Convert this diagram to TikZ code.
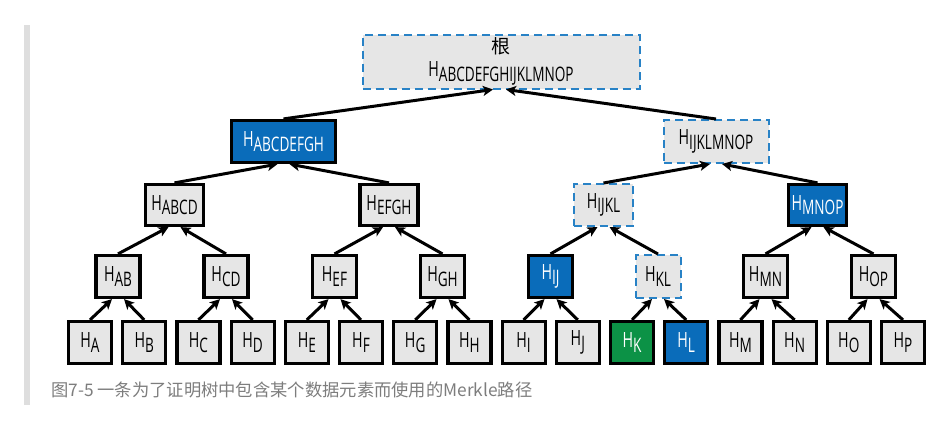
\documentclass[tikz,border=0pt]{standalone}
\usepackage{fontspec}
\usetikzlibrary{arrows.meta}
\newfontfamily\labfont[FakeStretch=0.68]{Open Sans}
\newfontfamily\cjk{Noto Sans CJK SC}
\newcommand\hsub[1]{H\raisebox{-0.22em}{\fontsize{20}{20}\selectfont #1}}
\definecolor{boxgray}{RGB}{230,230,230}
\definecolor{hblue}{RGB}{10,108,186}
\definecolor{dblue}{RGB}{40,130,198}
\definecolor{hgreen}{RGB}{12,146,70}
\definecolor{capgray}{RGB}{125,125,125}
\definecolor{bargray}{RGB}{222,222,222}
\tikzset{
  box/.style={draw=black, line width=3.2pt, fill=boxgray, inner sep=0pt,
    font=\labfont\fontsize{21}{23}\selectfont},
  bluebox/.style={fill=hblue, text=white},
  greenbox/.style={fill=hgreen, text=white},
  dashbox/.style={draw=dblue, line width=2pt, dash pattern=on 8pt off 5pt},
  leaf/.style={box, minimum width=43pt, minimum height=42pt},
  lvtwo/.style={box, minimum width=44pt, minimum height=42pt},
  lvthree/.style={box, minimum width=58pt, minimum height=41pt},
  lvfour/.style={box, minimum width=104pt, minimum height=42pt},
  arr/.style={line width=3pt, -{Stealth[length=10pt,width=10pt,inset=2.5pt]}},
}
\begin{document}
\begin{tikzpicture}[x=1pt,y=-1pt]
\useasboundingbox (0,0) rectangle (947,421);
\fill[bargray] (24,25) rectangle (30,405);
% root
\node[box, dashbox, minimum width=277pt, minimum height=54pt, align=center] (root) at (501,61.5)
  {{\cjk\fontsize{19}{19}\selectfont 根}\\[0pt]\hsub{ABCDEFGHIJKLMNOP}};
% level 4
\node[lvfour, bluebox] (ABCDEFGH) at (283.5,141.5) {\hsub{ABCDEFGH}};
\node[lvfour, dashbox, minimum width=105pt, minimum height=43pt] (IJKLMNOP) at (716,141.5) {\hsub{IJKLMNOP}};
% level 3
\node[lvthree] (ABCD) at (174.5,205) {\hsub{ABCD}};
\node[lvthree] (EFGH) at (389,205) {\hsub{EFGH}};
\node[lvthree, dashbox, minimum width=59pt, minimum height=42pt] (IJKL) at (603.5,205) {\hsub{IJKL}};
\node[lvthree, bluebox] (MNOP) at (817.5,205) {\hsub{MNOP}};
% level 2
\node[lvtwo] (AB) at (118,276.5) {\hsub{AB}};
\node[lvtwo] (CD) at (226,276.5) {\hsub{CD}};
\node[lvtwo] (EF) at (334.5,276.5) {\hsub{EF}};
\node[lvtwo] (GH) at (442.5,276.5) {\hsub{GH}};
\node[lvtwo, bluebox] (IJ) at (550.5,276.5) {\hsub{IJ}};
\node[lvtwo, dashbox, minimum width=45pt, minimum height=43pt] (KL) at (658,276.5) {\hsub{KL}};
\node[lvtwo] (MN) at (765.5,276.5) {\hsub{MN}};
\node[lvtwo] (OP) at (873.5,276.5) {\hsub{OP}};
% leaves
\node[leaf] (A) at (90,342.5) {\hsub{A}};
\node[leaf] (B) at (144.2,342.5) {\hsub{B}};
\node[leaf] (C) at (198.4,342.5) {\hsub{C}};
\node[leaf] (D) at (252.6,342.5) {\hsub{D}};
\node[leaf] (E) at (306.8,342.5) {\hsub{E}};
\node[leaf] (F) at (361,342.5) {\hsub{F}};
\node[leaf] (G) at (415.2,342.5) {\hsub{G}};
\node[leaf] (H) at (469.4,342.5) {\hsub{H}};
\node[leaf] (I) at (523.6,342.5) {\hsub{I}};
\node[leaf] (J) at (577.8,342.5) {\hsub{J}};
\node[leaf, greenbox] (K) at (632,342.5) {\hsub{K}};
\node[leaf, bluebox] (L) at (686.2,342.5) {\hsub{L}};
\node[leaf] (M) at (740.4,342.5) {\hsub{M}};
\node[leaf] (N) at (794.6,342.5) {\hsub{N}};
\node[leaf] (O) at (848.8,342.5) {\hsub{O}};
\node[leaf] (P) at (903,342.5) {\hsub{P}};
% connectors
\foreach \c/\p/\s in {A/AB/-6,B/AB/6,C/CD/-6,D/CD/6,E/EF/-6,F/EF/6,G/GH/-6,H/GH/6,
  I/IJ/-6,J/IJ/6,K/KL/-6,L/KL/6,M/MN/-6,N/MN/6,O/OP/-6,P/OP/6,
  AB/ABCD/-6,CD/ABCD/6,EF/EFGH/-6,GH/EFGH/6,IJ/IJKL/-6,KL/IJKL/6,MN/MNOP/-6,OP/MNOP/6,
  ABCD/ABCDEFGH/-6,EFGH/ABCDEFGH/6,IJKL/IJKLMNOP/-6,MNOP/IJKLMNOP/6,
  ABCDEFGH/root/-8,IJKLMNOP/root/5}
  \draw[arr] (\c.north) -- ([xshift=\s pt]\p.south);
% caption
\node[anchor=west, inner sep=0pt, font=\cjk\fontsize{17.3}{17.3}\selectfont, text=capgray] (cap) at (51,390)
  {图7-5 一条为了证明树中包含某个数据元素而使用的Merkle路径};
\end{tikzpicture}
\end{document}
